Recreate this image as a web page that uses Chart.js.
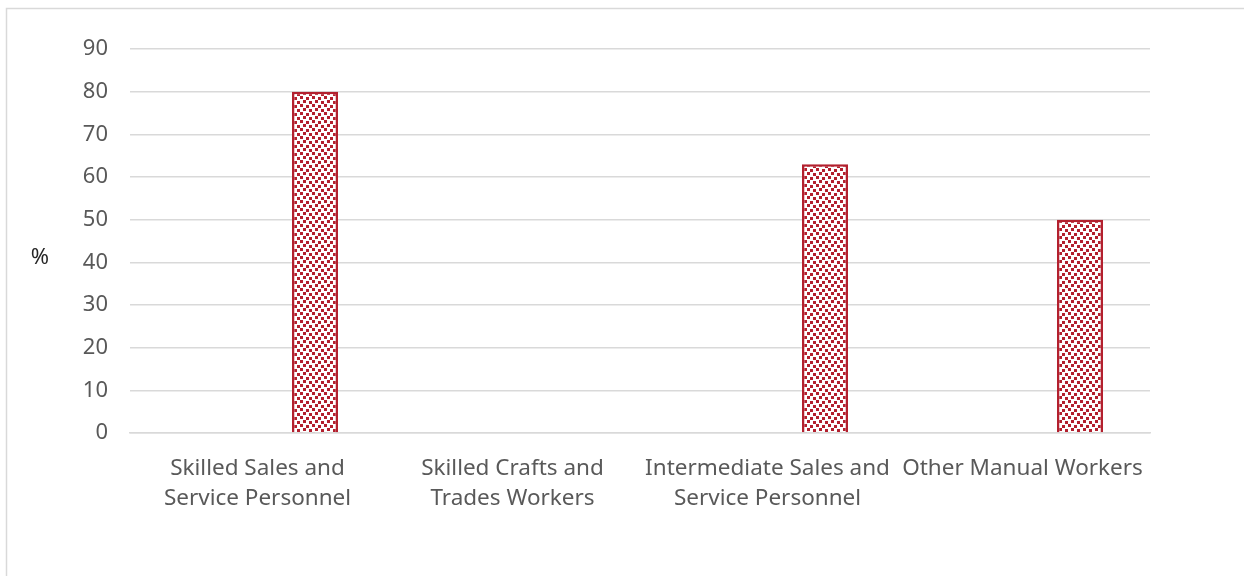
<!DOCTYPE html>
<html>
<head>
<meta charset="utf-8">
<script src="https://cdn.jsdelivr.net/npm/chart.js@4.4.1/dist/chart.umd.min.js"></script>
<style>
  html, body { margin: 0; padding: 0; background: #fff; }
  #wrap { width: 1244px; height: 576px; position: relative; }
</style>
</head>
<body>
<div id="wrap"><canvas id="chart" width="1244" height="576"></canvas></div>
<script>
// Occupation groups on the x axis (multi-line labels)
const categories = [
  ['Skilled Sales and', 'Service Personnel'],
  ['Skilled Crafts and', 'Trades Workers'],
  ['Intermediate Sales and', 'Service Personnel'],
  ['Other Manual Workers']
];
// First series has no values; second series holds the percentages
const seriesA = [null, null, null, null];
const seriesB = [80, null, 63, 50];
const yTicks = [0, 10, 20, 30, 40, 50, 60, 70, 80, 90];

const RED = '#b3202e';
const GREY_TEXT = '#595959';
const GRID = '#d9d9d9';
const FONT = "'Noto Sans', 'Open Sans', sans-serif";

// Staggered-square fill pattern for the bars
function makePattern() {
  const t = document.createElement('canvas');
  t.width = 12; t.height = 8;
  const c = t.getContext('2d');
  c.fillStyle = '#fff';
  c.fillRect(0, 0, 12, 8);
  c.fillStyle = RED;
  c.fillRect(0, 0, 3, 3);
  c.fillRect(6, 1, 3, 3);
  c.fillRect(3, 4, 3, 3);
  c.fillRect(9, 5, 3, 3);
  return document.getElementById('chart').getContext('2d').createPattern(t, 'repeat');
}

// Outer frame and the "%" axis caption
const decor = {
  id: 'decor',
  beforeDraw(chart) {
    const ctx = chart.ctx;
    ctx.save();
    ctx.fillStyle = '#fff';
    ctx.fillRect(0, 0, chart.width, chart.height);
    ctx.strokeStyle = GRID;
    ctx.lineWidth = 1.5;
    ctx.beginPath();
    ctx.moveTo(6.5, chart.height + 5);
    ctx.lineTo(6.5, 8.5);
    ctx.lineTo(chart.width + 5, 8.5);
    ctx.stroke();
    ctx.restore();
  },
  afterDraw(chart) {
    const ctx = chart.ctx;
    const a = chart.chartArea;
    ctx.save();
    ctx.fillStyle = '#262626';
    ctx.font = '22px ' + FONT;
    ctx.textAlign = 'center';
    ctx.textBaseline = 'middle';
    ctx.fillText('%', 40, (a.top + a.bottom) / 2 + 17);
    ctx.restore();
  }
};

new Chart(document.getElementById('chart'), {
  type: 'bar',
  data: {
    labels: categories,
    datasets: [
      { label: 'A', data: seriesA, backgroundColor: RED },
      { label: 'B', data: seriesB, backgroundColor: makePattern(), borderColor: RED, borderWidth: 2.5, borderSkipped: 'bottom' }
    ]
  },
  options: {
    responsive: false,
    animation: false,
    events: [],
    layout: { padding: { left: 0, right: 94, top: 49, bottom: 0 } },
    datasets: { bar: { categoryPercentage: 0.902, barPercentage: 0.4 } },
    plugins: { legend: { display: false }, tooltip: { enabled: false } },
    scales: {
      x: {
        grid: { display: false, drawTicks: false },
        border: { display: true, color: GRID, width: 1.5 },
        ticks: {
          color: GREY_TEXT, font: { family: FONT, size: 22.5, lineHeight: 1.33 },
          padding: 21, maxRotation: 0, autoSkip: false
        },
        afterFit(s) { s.height = 143; }
      },
      y: {
        min: 0, max: 90,
        afterBuildTicks(s) { s.ticks = yTicks.map(v => ({ value: v })); },
        grid: { color: GRID, lineWidth: 1.5, drawTicks: false },
        border: { display: false },
        ticks: {
          color: GREY_TEXT, font: { family: FONT, size: 22 },
          padding: 22
        },
        afterFit(s) { s.width = 130; }
      }
    }
  },
  plugins: [decor]
});
</script>
</body>
</html>
